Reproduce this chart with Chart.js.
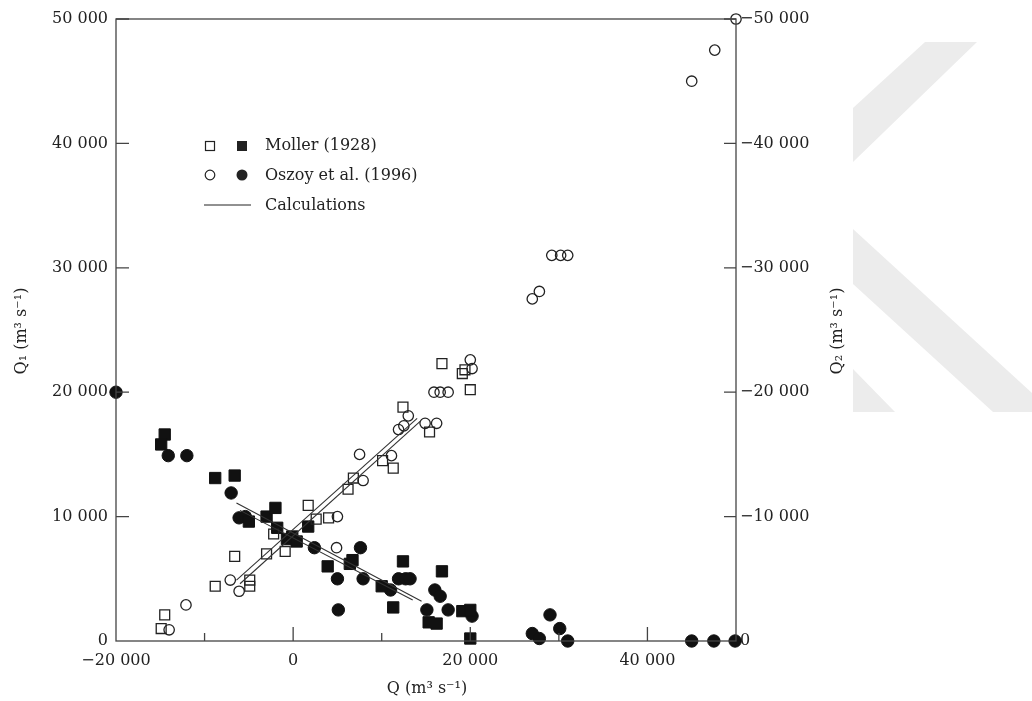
<!DOCTYPE html>
<html>
<head>
<meta charset="utf-8">
<script src="https://cdn.jsdelivr.net/npm/chart.js@4.4.0/dist/chart.umd.min.js"></script>
<style>
  html, body { margin: 0; padding: 0; background: #fff; }
</style>
</head>
<body>
<canvas id="myChart" width="1032" height="701"></canvas>
<script>
// ---------- DATA (m3 s-1) ----------
// Moller (1928): open = Q1, filled = Q2
const mollerQ1x = [-14900, -14500, -8800, -6600, -4900, -4900, -3000, -900, -2200, 1700, 2600, 4000,
  6200, 6800, 10100, 11300, 12400, 15400, 16800, 19100, 19400, 20000];
const mollerQ1 = [1000, 2100, 4400, 6800, 4900, 4400, 7000, 7200, 8600, 10900, 9800, 9900,
  12200, 13100, 14500, 13900, 18800, 16800, 22300, 21500, 21800, 20200];

const mollerQ2x = [-14500, -14900, -8800, -6600, -5000, -3000, -2000, -1800, -700, -100, 400, 1700,
  3900, 6400, 6700, 10000, 11300, 12400, 16800, 15300, 16200, 19100, 20000, 20000];
const mollerQ2 = [-16600, -15800, -13100, -13300, -9600, -10000, -10700, -9100, -8200, -8400, -8000, -9200,
  -6000, -6200, -6500, -4400, -2700, -6400, -5600, -1500, -1400, -2400, -2500, -200];

// Oszoy et al. (1996): open = Q1, filled = Q2
const oszoyQ1x = [-14000, -12100, -7100, -6100, 5000, 4900, 7500, 7900, 11100, 11900, 12500, 13000,
  14900, 16200, 15900, 16600, 17500, 20000, 20200, 27000, 27800, 29200, 30200, 31000, 45000, 47600, 50000];
const oszoyQ1 = [900, 2900, 4900, 4000, 10000, 7500, 15000, 12900, 14900, 17000, 17300, 18100,
  17500, 17500, 20000, 20000, 20000, 22600, 21900, 27500, 28100, 31000, 31000, 31000, 45000, 47500, 50000];

const oszoyQ2x = [-20000, -14100, -12000, -7000, -6100, -5400, -300, 2400, 5000, 5100, 7600, 7900,
  11000, 11900, 12700, 13200, 15100, 16000, 16600, 17500, 20200, 27000, 27800, 29000, 30100, 31000,
  45000, 47500, 49900];
const oszoyQ2 = [-20000, -14900, -14900, -11900, -9900, -10000, -8300, -7500, -5000, -2500, -7500, -5000,
  -4100, -5000, -5000, -5000, -2500, -4100, -3600, -2500, -2000, -600, -200, -2100, -1000, 0,
  0, 0, 0];

// Calculations
const calcQ1aX = [-6400, 14000];
const calcQ1a = [4900, 17900];
const calcQ1bX = [-6000, 14400];
const calcQ1b = [4600, 17700];
const calcQ2aX = [-6400, 14500];
const calcQ2a = [-11100, -3200];
const calcQ2bX = [-6000, 13500];
const calcQ2b = [-10500, -3300];

const xTicks = [-10000, 0, 10000, 20000, 30000, 40000];
const yTicks = [10000, 20000, 30000, 40000, 50000];

// ---------- helpers ----------
const FONT = "DejaVu Serif";
const INK = "#222";
const AXIS = "#444";

function pts(xs, ys) {
  return xs.map((x, i) => ({ x: x, y: ys[i] }));
}

function fmt(v) {
  const s = Math.abs(v).toString().replace(/\B(?=(\d{3})+(?!\d))/g, " ");
  return (v < 0 ? "\u2212" : "") + s;
}

// watermark, frame, inward ticks, titles and legend
const decor = {
  id: "decor",
  beforeDraw(chart) {
    const ctx = chart.ctx;
    ctx.save();
    ctx.fillStyle = "#ececec";
    const polys = [
      [[925, 42], [977, 42], [853, 162], [853, 108]],
      [[853, 229], [1032, 393], [1032, 412], [993, 412], [853, 284]],
      [[853, 369], [853, 412], [895, 412]],
    ];
    polys.forEach((p) => {
      ctx.beginPath();
      ctx.moveTo(p[0][0], p[0][1]);
      p.slice(1).forEach((q) => ctx.lineTo(q[0], q[1]));
      ctx.closePath();
      ctx.fill();
    });
    ctx.restore();
  },
  afterDraw(chart) {
    const ctx = chart.ctx;
    const a = chart.chartArea;
    const sx = chart.scales.x, sy = chart.scales.y, sy2 = chart.scales.y2;
    ctx.save();
    ctx.strokeStyle = AXIS;
    ctx.lineWidth = 1.3;
    ctx.strokeRect(a.left, a.top, a.right - a.left, a.bottom - a.top);

    ctx.beginPath();
    xTicks.forEach((v) => {
      const px = sx.getPixelForValue(v);
      const len = v % 20000 === 0 ? 14 : 8;
      ctx.moveTo(px, a.bottom);
      ctx.lineTo(px, a.bottom - len);
    });
    yTicks.forEach((v) => {
      const py = sy.getPixelForValue(v);
      ctx.moveTo(a.left, py);
      ctx.lineTo(a.left + 13, py);
      const py2 = sy2.getPixelForValue(-v);
      ctx.moveTo(a.right, py2);
      ctx.lineTo(a.right - 12, py2);
    });
    ctx.stroke();

    // axis titles
    ctx.fillStyle = INK;
    ctx.font = "16px '" + FONT + "'";
    ctx.textAlign = "center";
    ctx.textBaseline = "middle";
    ctx.fillText("Q (m\u00b3 s\u207b\u00b9)", 427, 689);
    [[22, "Q\u2081 (m\u00b3 s\u207b\u00b9)"], [838, "Q\u2082 (m\u00b3 s\u207b\u00b9)"]].forEach((t) => {
      ctx.save();
      ctx.translate(t[0], 331);
      ctx.rotate(-Math.PI / 2);
      ctx.fillText(t[1], 0, 0);
      ctx.restore();
    });

    // legend
    ctx.textAlign = "left";
    ctx.lineWidth = 1.2;
    ctx.strokeStyle = INK;
    ctx.strokeRect(205.5, 141.5, 9, 9);
    ctx.fillRect(237, 141, 10, 10);
    ctx.fillText("Moller (1928)", 265, 146);
    ctx.beginPath();
    ctx.arc(210, 175, 4.8, 0, Math.PI * 2);
    ctx.stroke();
    ctx.beginPath();
    ctx.arc(242, 175, 5.5, 0, Math.PI * 2);
    ctx.fill();
    ctx.fillText("Oszoy et al. (1996)", 265, 176);
    ctx.beginPath();
    ctx.lineWidth = 1;
    ctx.moveTo(204, 205);
    ctx.lineTo(251, 205);
    ctx.stroke();
    ctx.fillText("Calculations", 265, 206);
    ctx.restore();
  },
};

const openStyle = { borderColor: INK, backgroundColor: "rgba(0,0,0,0)", borderWidth: 1.3 };
const fillStyle = { borderColor: "#111", backgroundColor: "#111", borderWidth: 1 };
const calcStyle = { type: "line", showLine: true, pointRadius: 0, borderColor: "#333", borderWidth: 1.1, fill: false };

const ctx = document.getElementById("myChart").getContext("2d");
const chart = new Chart(ctx, {
  type: "scatter",
  data: {
    datasets: [
      Object.assign({ label: "Calc Q1 a", data: pts(calcQ1aX, calcQ1a), yAxisID: "y" }, calcStyle),
      Object.assign({ label: "Calc Q1 b", data: pts(calcQ1bX, calcQ1b), yAxisID: "y" }, calcStyle),
      Object.assign({ label: "Calc Q2 a", data: pts(calcQ2aX, calcQ2a), yAxisID: "y2" }, calcStyle),
      Object.assign({ label: "Calc Q2 b", data: pts(calcQ2bX, calcQ2b), yAxisID: "y2" }, calcStyle),
      Object.assign({ label: "Moller Q1", data: pts(mollerQ1x, mollerQ1), yAxisID: "y",
        pointStyle: "rect", pointRadius: 7, clip: false }, openStyle),
      Object.assign({ label: "Oszoy Q1", data: pts(oszoyQ1x, oszoyQ1), yAxisID: "y",
        pointStyle: "circle", pointRadius: 5.2, clip: false }, openStyle),
      Object.assign({ label: "Moller Q2", data: pts(mollerQ2x, mollerQ2), yAxisID: "y2",
        pointStyle: "rect", pointRadius: 8, clip: false }, fillStyle),
      Object.assign({ label: "Oszoy Q2", data: pts(oszoyQ2x, oszoyQ2), yAxisID: "y2",
        pointStyle: "circle", pointRadius: 6.2, clip: false }, fillStyle),
    ],
  },
  options: {
    responsive: false,
    animation: false,
    devicePixelRatio: 1,
    layout: { padding: { top: 19, left: 0, right: 0, bottom: 0 } },
    plugins: { legend: { display: false }, tooltip: { enabled: false } },
    elements: { point: { hoverRadius: 0 } },
    scales: {
      x: {
        type: "linear",
        min: -20000,
        max: 50000,
        afterFit(s) { s.height = 60; },
        grid: { display: false, drawTicks: false },
        border: { display: false },
        ticks: {
          stepSize: 10000,
          autoSkip: false,
          maxRotation: 0,
          padding: 10,
          color: INK,
          font: { family: FONT, size: 16 },
          callback: (v) => (v % 20000 === 0 ? fmt(v) : ""),
        },
      },
      y: {
        position: "left",
        min: 0,
        max: 50000,
        afterFit(s) { s.width = 116; },
        grid: { display: false, drawTicks: false },
        border: { display: false },
        ticks: { stepSize: 10000, padding: 8, color: INK, font: { family: FONT, size: 16 }, callback: (v) => fmt(v) },
      },
      y2: {
        position: "right",
        min: -50000,
        max: 0,
        reverse: true,
        afterFit(s) { s.width = 296; },
        grid: { display: false, drawTicks: false },
        border: { display: false },
        ticks: { stepSize: 10000, padding: 4, color: INK, font: { family: FONT, size: 16 }, callback: (v) => fmt(v) },
      },
    },
  },
  plugins: [decor],
});
</script>
</body>
</html>
